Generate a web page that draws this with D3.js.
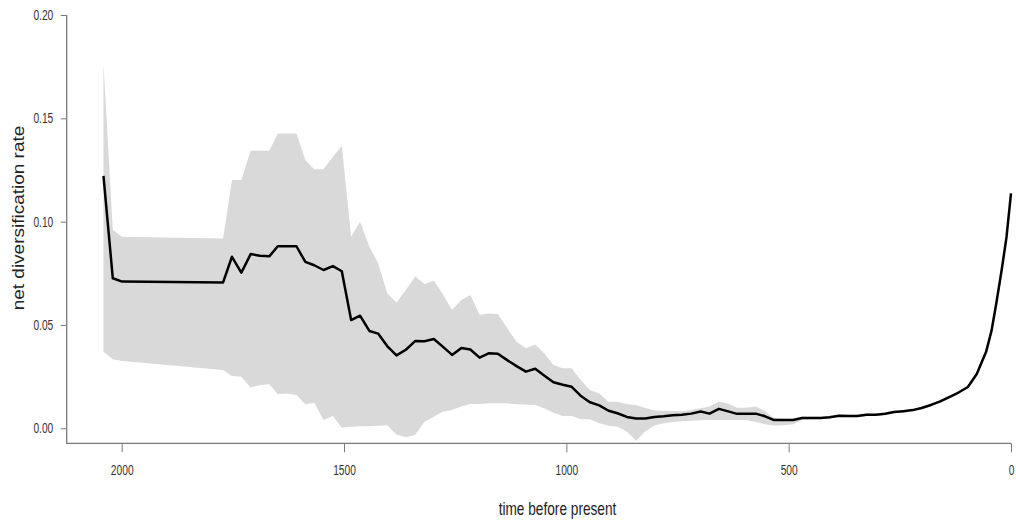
<!DOCTYPE html>
<html>
<head>
<meta charset="utf-8">
<script src="https://cdn.jsdelivr.net/npm/d3@7"></script>
<style>
  html, body { margin: 0; padding: 0; background: #fff; }
  svg { display: block; font-family: "Liberation Sans", Arial, sans-serif; }
</style>
</head>
<body>
<svg id="chart" width="1016" height="527"></svg>
<script>
// time before present (x), mean net diversification rate, and credible band
const times = [2041,2020,1999,1772,1752,1731,1710,1689,1668,1649,1628,1607,1587,1567,1546,1525,1505,1484,1464,1443,1423,1403,1382,1361,1340,1319,1298,1278,1257,1236,1216,1195,1175,1154,1133,1112,1091,1070,1050,1029,1008,988,968,947,926,905,885,864,843,823,802,781,761,740,719,698,678,657,636,616,595,574,553,533,511,490,470,449,428,408,387,366,346,325,304,283,263,242,221,201,180,159,139,118,97,77,56,44,33,21,10,0];
const rate = [.1221,.0726,.0710,.0706,.0830,.0753,.0843,.0835,.0832,.0881,.0881,.0881,.0805,.0789,.0766,.0785,.0760,.0524,.0545,.0471,.0458,.0398,.0353,.0380,.0422,.0421,.0432,.0395,.0355,.0389,.0381,.0342,.0363,.0361,.0330,.0301,.0274,.0288,.0255,.0223,.0211,.0201,.0158,.0126,.0111,.0085,.0073,.0055,.0047,.0047,.0055,.0058,.0063,.0066,.0071,.0081,.0071,.0094,.0082,.0070,.0071,.0071,.0058,.0040,.0040,.0040,.0050,.0050,.0050,.0053,.0061,.0060,.0059,.0066,.0066,.0070,.0079,.0083,.0088,.0098,.0113,.0130,.0151,.0173,.0200,.0263,.0370,.0470,.0605,.0766,.0927,.1137];
const upper = [.1765,.0959,.0927,.0919,.1201,.1201,.1343,.1343,.1343,.1427,.1427,.1427,.1298,.1253,.1253,.1314,.1366,.0927,.1000,.0879,.0798,.0653,.0608,.0669,.0734,.0698,.0714,.0650,.0572,.0621,.0645,.0548,.0556,.0553,.0484,.0419,.0387,.0406,.0363,.0306,.0290,.0290,.0234,.0185,.0169,.0129,.0128,.0118,.0112,.0100,.0086,.0085,.0084,.0083,.0089,.0097,.0105,.0130,.0119,.0100,.0100,.0105,.0083,.0050,.0048,.0046,.0057,.0056,.0056,.0059,.0067,.0066,.0065,.0072,.0072,.0076,.0085,.0089,.0094,.0104,.0119,.0136,.0157,.0179,.0206,.0269,.0376,.0476,.0611,.0772,.0933,.1143];
const lower = [.0371,.0334,.0326,.0282,.0253,.0250,.0198,.0210,.0213,.0166,.0169,.0161,.0116,.0124,.0040,.0060,.0003,.0008,.0010,.0010,.0012,.0015,-.0030,-.0043,-.0032,.0032,.0056,.0080,.0089,.0105,.0118,.0118,.0121,.0121,.0121,.0116,.0115,.0113,.0097,.0075,.0060,.0060,.0044,.0044,.0024,.0012,.0008,-.0015,-.0060,-.0015,.0013,.0025,.0030,.0034,.0037,.0039,.0040,.0040,.0040,.0040,.0040,.0030,.0020,.0013,.0015,.0020,.0040,.0044,.0044,.0047,.0055,.0054,.0053,.0060,.0060,.0064,.0073,.0077,.0082,.0092,.0107,.0124,.0145,.0167,.0194,.0257,.0364,.0464,.0599,.0760,.0921,.1131];
const xTicks = [2000, 1500, 1000, 500, 0];
const yTicks = [0.00, 0.05, 0.10, 0.15, 0.20];
const xTitle = "time before present";
const yTitle = "net diversification rate";

const data = times.map((t, i) => ({ t, r: rate[i], hi: upper[i], lo: lower[i] }));

const svg = d3.select("#chart");
const x = d3.scaleLinear().domain([2000, 0]).range([121.7, 1011]);
const y = d3.scaleLinear().domain([0, 0.2]).range([428.3, 15]);
const axisY = 443.3, axisX = 66.7;
const SX = 0.73;

// band
svg.append("path")
  .datum(data)
  .attr("fill", "#d9d9d9")
  .attr("stroke", "none")
  .attr("d", d3.area().x(d => x(d.t)).y0(d => y(d.lo)).y1(d => y(d.hi)));

// mean line
svg.append("path")
  .datum(data)
  .attr("fill", "none")
  .attr("stroke", "#000")
  .attr("stroke-width", 2.5)
  .attr("stroke-linejoin", "round")
  .attr("d", d3.line().x(d => x(d.t)).y(d => y(d.r)));

const axisColor = "#7a7a7a";

// y axis
const gy = svg.append("g").attr("transform", `translate(${axisX},0)`)
  .call(d3.axisLeft(y).tickValues(yTicks).tickFormat(d3.format(".2f")).tickSize(6).tickSizeOuter(0));
gy.select(".domain").remove();
gy.selectAll(".tick line").attr("stroke", axisColor);
gy.selectAll(".tick text")
  .attr("fill", "#333").style("font-size", "14px")
  .attr("x", -13.4 / SX)
  .attr("transform", `scale(${SX},1)`);

// x axis
const gx = svg.append("g").attr("transform", `translate(0,${axisY})`)
  .call(d3.axisBottom(x).tickValues(xTicks).tickFormat(d3.format("d")).tickSize(9).tickSizeOuter(0));
gx.select(".domain").remove();
gx.selectAll(".tick line").attr("stroke", axisColor);
gx.selectAll(".tick text")
  .attr("fill", "#333").style("font-size", "14px")
  .attr("y", 21.8)
  .attr("transform", `scale(${SX},1)`);

// L-shaped frame
svg.append("path")
  .attr("fill", "none").attr("stroke", axisColor).attr("stroke-width", 1.3)
  .attr("d", `M${axisX},${y(0.2)}V${axisY}H${x(0)}`);

// titles
svg.append("text")
  .attr("transform", `translate(557.5,515) scale(0.76,1)`)
  .attr("text-anchor", "middle").attr("fill", "#222")
  .style("font-size", "18px").text(xTitle);

svg.append("text")
  .attr("transform", `translate(24,218) rotate(-90) scale(1,0.86)`)
  .attr("text-anchor", "middle").attr("fill", "#222")
  .style("font-size", "19px").text(yTitle);
</script>
</body>
</html>
